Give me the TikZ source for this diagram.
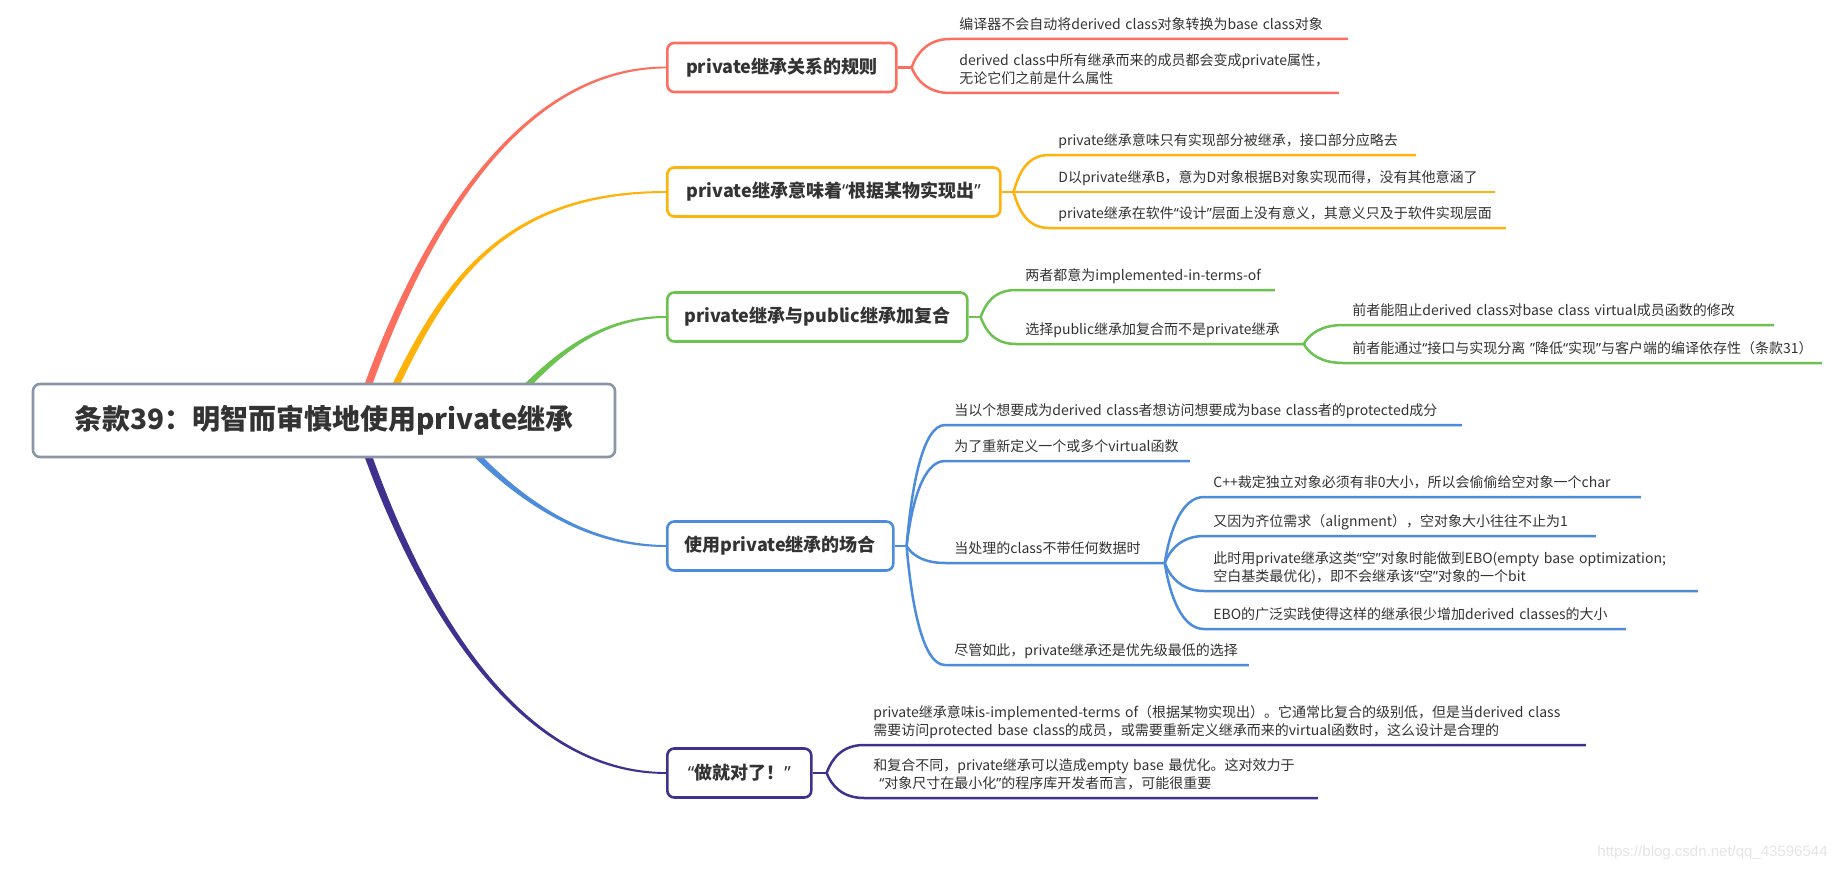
\documentclass[tikz,border=0pt]{standalone}
\usepackage{fontspec}
\setmainfont{Noto Sans CJK SC}
\newfontfamily\wmfont{Liberation Sans}
\newfontfamily\qfont{Noto Sans}
\newcommand\oqt{{\qfont “}}
\newcommand\cqt{{\qfont ”}}
\usetikzlibrary{calc}
\pgfdeclarelayer{bg}
\pgfsetlayers{bg,main}
\definecolor{cRed}{HTML}{FC6F5E}
\definecolor{cOrange}{HTML}{FFB20A}
\definecolor{cGreen}{HTML}{6CC24F}
\definecolor{cBlue}{HTML}{4C8CDB}
\definecolor{cPurple}{HTML}{41318F}
\definecolor{cRoot}{HTML}{8A96A8}
\definecolor{cText}{HTML}{333333}
\tikzset{
rootnode/.style = {draw=cRoot, line width=1.3pt, rounded corners=3.5pt, fill=white, text=cText,
  font=\bfseries\fontsize{14}{16}\selectfont, minimum width=291pt, minimum height=36.5pt, inner sep=0pt},
topic/.style = {draw=#1, line width=1.3pt, rounded corners=3.5pt, fill=white, text=cText,
  font=\bfseries\fontsize{9}{11}\selectfont, minimum height=24.5pt, inner xsep=0pt, anchor=west},
leaf/.style = {anchor=south west, text=cText, font=\fontsize{7}{9}\selectfont, align=left,
  inner xsep=4.5pt, inner ysep=1.65pt, execute at end node={\strut}},
sub/.style = {draw=#1, line width=1.25pt},
fork/.style = {to path={.. controls ($(\tikztostart)!0.5!(\tikztostart|-\tikztotarget)+(5,0)$)
  and ($(\tikztotarget)+(-22,0)$) .. (\tikztotarget) \tikztonodes}}
}
\begin{document}
\begin{tikzpicture}[x=0.5pt, y=-0.5pt]
\useasboundingbox (0,0) rectangle (1836,872);

\node [rootnode] (root) at (324,420.5) {条款39：明智而审慎地使用private继承};

\node [topic=cRed, minimum width=114.5pt] (b1) at (666,67.5) {private继承关系的规则};
\node [topic=cOrange, minimum width=166.5pt] (b2) at (666,192) {private继承意味着\oqt 根据某物实现出\cqt};
\node [topic=cGreen, minimum width=150pt] (b3) at (666,317) {private继承与public继承加复合};
\node [topic=cBlue, minimum width=113pt] (b4) at (666,546) {使用private继承的场合};
\node [topic=cPurple, minimum width=72pt] (b5) at (666,773) {\oqt 做就对了！\cqt};

\begin{pgfonlayer}{bg}
  \fill [white] (0,0) rectangle (1836,872);
  \fill [cRed] ($(root.center)+(28,0)$) .. controls +(55,-168) and +(-155,-1) .. ($(b1.west)+(0,-0.9)$)
    -- ($(b1.west)+(0,0.9)$) .. controls +(-155,1) and +(55,-168) .. ($(root.center)+(36,0)$) -- cycle;
  \fill [cOrange] ($(root.center)+(51,0)$) .. controls +(55,-117) and +(-180,-1) .. ($(b2.west)+(0,-0.9)$)
    -- ($(b2.west)+(0,0.9)$) .. controls +(-180,1) and +(55,-117) .. ($(root.center)+(59,0)$) -- cycle;
  \fill [cGreen] ($(root.center)+(167.5,0)$) .. controls +(51,-61) and +(-70,-1) .. ($(b3.west)+(0,-0.9)$)
    -- ($(b3.west)+(0,0.9)$) .. controls +(-70,1) and +(51,-61) .. ($(root.center)+(176.5,0)$) -- cycle;
  \fill [cBlue] ($(root.center)+(116.5,0)$) .. controls +(58,69) and +(-90,1) .. ($(b4.west)+(0,0.9)$)
    -- ($(b4.west)+(0,-0.9)$) .. controls +(-90,-1) and +(58,69) .. ($(root.center)+(125.5,0)$) -- cycle;
  \fill [cPurple] ($(root.center)+(28,0)$) .. controls +(55,168) and +(-155,1) .. ($(b5.west)+(0,0.9)$)
    -- ($(b5.west)+(0,-0.9)$) .. controls +(-155,-1) and +(55,168) .. ($(root.center)+(36,0)$) -- cycle;
\end{pgfonlayer}

% private继承关系的规则
\node [leaf, text width=189.5pt] (r1) at (950,39) {编译器不会自动将derived class对象转换为base class对象};
\node [leaf, text width=185pt] (r2) at (950,93) {derived class中所有继承而来的成员都会变成private属性，\\无论它们之前是什么属性};
\coordinate (f1) at ([xshift=7pt]b1.east);
\draw [sub=cRed] (b1.east) -- (f1);
\draw [sub=cRed] (f1) to[fork] (r1.south west) -- (r1.south east);
\draw [sub=cRed] (f1) to[fork] (r2.south west) -- (r2.south east);

% 根据某物实现出
\node [leaf, text width=174pt] (o1) at (1049,155) {private继承意味只有实现部分被继承，接口部分应略去};
\node [leaf, text width=213.5pt] (o2) at (1049,192) {D以private继承B，意为D对象根据B对象实现而得，没有其他意涵了};
\node [leaf, text width=219pt] (o3) at (1049,228) {private继承在软件\oqt 设计\cqt 层面上没有意义，其意义只及于软件实现层面};
\coordinate (f2) at ([xshift=6pt]b2.east);
\draw [sub=cOrange] (b2.east) -- (f2);
\draw [sub=cOrange] (f2) to[fork] (o1.south west) -- (o1.south east);
\draw [sub=cOrange] (f2) to[fork] (o2.south west) -- (o2.south east);
\draw [sub=cOrange] (f2) to[fork] (o3.south west) -- (o3.south east);

% public继承加复合
\node [leaf, text width=120pt] (g1) at (1016,290) {两者都意为implemented-in-terms-of};
\node [leaf, text width=134.5pt] (g2) at (1016,344) {选择public继承加复合而不是private继承};
\node [leaf, text width=206pt] (g21) at (1343,325) {前者能阻止derived class对base class virtual成员函数的修改};
\node [leaf, text width=230pt] (g22) at (1343,363) {\mbox{前者能通过\oqt 接口与实现分离 \cqt 降低\oqt 实现\cqt 与客户端的编译依存性（条款31）}};
\coordinate (f3) at ([xshift=6pt]b3.east);
\draw [sub=cGreen] (b3.east) -- (f3);
\draw [sub=cGreen] (f3) to[fork] (g1.south west) -- (g1.south east);
\draw [sub=cGreen] (f3) to[fork] (g2.south west) -- (g2.south east);
\draw [sub=cGreen] (g2.south east) to[fork] (g21.south west) -- (g21.south east);
\draw [sub=cGreen] (g2.south east) to[fork] (g22.south west) -- (g22.south east);

% 使用场合
\node [leaf, text width=249pt] (u1) at (945,425) {当以个想要成为derived class者想访问想要成为base class者的protected成分};
\node [leaf, text width=113pt] (u2) at (945,461) {为了重新定义一个或多个virtual函数};
\node [leaf, text width=100.5pt] (u3) at (945,563) {当处理的class不带任何数据时};
\node [leaf, text width=142.5pt] (u4) at (945,665) {尽管如此，private继承还是优先级最低的选择};
\node [leaf, text width=209pt] (u31) at (1204,497) {C++裁定独立对象必须有非0大小，所以会偷偷给空对象一个char};
\node [leaf, text width=186.5pt] (u32) at (1204,536) {又因为齐位需求（alignment），空对象大小往往不止为1};
\node [leaf, text width=237.5pt] (u33) at (1204,591) {\mbox{此时用private继承这类\oqt 空\cqt 对象时能做到EBO(empty base optimization;}\\空白基类最优化)，即不会继承该\oqt 空\cqt 对象的一个bit};
\node [leaf, text width=201.5pt] (u34) at (1204,629) {EBO的广泛实践使得这样的继承很少增加derived classes的大小};
\coordinate (f4) at ([xshift=6pt]b4.east);
\draw [sub=cBlue] (b4.east) -- (f4);
\foreach \n in {u1,u2,u3,u4}
  \draw [sub=cBlue] (f4) to[fork] (\n.south west) -- (\n.south east);
\foreach \n in {u31,u32,u33,u34}
  \draw [sub=cBlue] (u3.south east) to[fork] (\n.south west) -- (\n.south east);

% 做就对了
\node [leaf, text width=351.5pt] (p1) at (864,745) {private继承意味is-implemented-terms of（根据某物实现出）。它通常比复合的级别低，但是当derived class\\需要访问protected base class的成员，或需要重新定义继承而来的virtual函数时，这么设计是合理的};
\node [leaf, text width=217.5pt] (p2) at (864,798) {和复合不同，private继承可以造成empty base 最优化。这对效力于\\\hspace*{3pt}\oqt 对象尺寸在最小化\cqt 的程序库开发者而言，可能很重要};
\coordinate (f5) at ([xshift=7pt]b5.east);
\draw [sub=cPurple] (b5.east) -- (f5);
\draw [sub=cPurple] (f5) to[fork] (p1.south west) -- (p1.south east);
\draw [sub=cPurple] (f5) to[fork] (p2.south west) -- (p2.south east);

\node [anchor=east, text=black!10, font=\wmfont\fontsize{7.5}{9}\selectfont, inner sep=0pt] (wm) at (1828,853) {https://blog.csdn.net/qq\_43596544};
\end{tikzpicture}
\end{document}
